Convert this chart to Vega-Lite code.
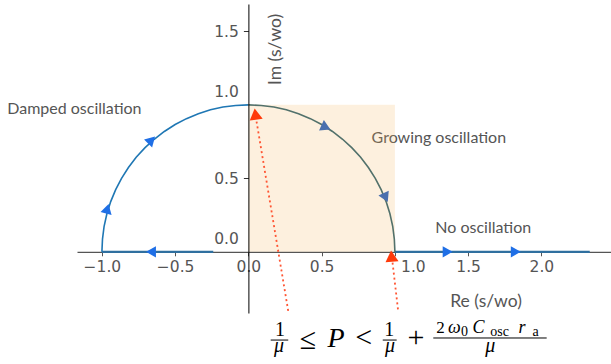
{
  "$schema": "https://vega.github.io/schema/vega-lite/v6.json",
  "width": 534,
  "height": 309,
  "autosize": "none",
  "padding": {"left": 77, "top": 4, "right": 0, "bottom": 51},
  "background": "white",
  "config": {"view": {"stroke": null}},
  "datasets": {
    "curves": [
      {"s": "axneg", "x": -1.0, "y": 0}, {"s": "axneg", "x": -0.24, "y": 0},
      {"s": "axpos", "x": 1.0, "y": 0}, {"s": "axpos", "x": 2.33, "y": 0},
      {"s": "damped", "x": -1.0, "y": 0.0}, {"s": "damped", "x": -0.996, "y": 0.087},
      {"s": "damped", "x": -0.985, "y": 0.174}, {"s": "damped", "x": -0.966, "y": 0.259},
      {"s": "damped", "x": -0.94, "y": 0.342}, {"s": "damped", "x": -0.906, "y": 0.423},
      {"s": "damped", "x": -0.866, "y": 0.5}, {"s": "damped", "x": -0.819, "y": 0.574},
      {"s": "damped", "x": -0.766, "y": 0.643}, {"s": "damped", "x": -0.707, "y": 0.707},
      {"s": "damped", "x": -0.643, "y": 0.766}, {"s": "damped", "x": -0.574, "y": 0.819},
      {"s": "damped", "x": -0.5, "y": 0.866}, {"s": "damped", "x": -0.423, "y": 0.906},
      {"s": "damped", "x": -0.342, "y": 0.94}, {"s": "damped", "x": -0.259, "y": 0.966},
      {"s": "damped", "x": -0.174, "y": 0.985}, {"s": "damped", "x": -0.087, "y": 0.996},
      {"s": "damped", "x": 0.0, "y": 1.0},
      {"s": "growing", "x": 0.0, "y": 1.0}, {"s": "growing", "x": 0.087, "y": 0.996},
      {"s": "growing", "x": 0.174, "y": 0.985}, {"s": "growing", "x": 0.259, "y": 0.966},
      {"s": "growing", "x": 0.342, "y": 0.94}, {"s": "growing", "x": 0.423, "y": 0.906},
      {"s": "growing", "x": 0.5, "y": 0.866}, {"s": "growing", "x": 0.574, "y": 0.819},
      {"s": "growing", "x": 0.643, "y": 0.766}, {"s": "growing", "x": 0.707, "y": 0.707},
      {"s": "growing", "x": 0.766, "y": 0.643}, {"s": "growing", "x": 0.819, "y": 0.574},
      {"s": "growing", "x": 0.866, "y": 0.5}, {"s": "growing", "x": 0.906, "y": 0.423},
      {"s": "growing", "x": 0.94, "y": 0.342}, {"s": "growing", "x": 0.966, "y": 0.259},
      {"s": "growing", "x": 0.985, "y": 0.174}, {"s": "growing", "x": 0.996, "y": 0.087},
      {"s": "growing", "x": 1.0, "y": 0.0}
    ],
    "arrows": [
      {"x": -0.665, "y": 0, "heading": 270, "grp": "bright"},
      {"x": -0.963, "y": 0.293, "heading": 15, "grp": "bright"},
      {"x": -0.661, "y": 0.761, "heading": 45, "grp": "bright"},
      {"x": 0.518, "y": 0.863, "heading": 355, "grp": "muted"},
      {"x": 0.921, "y": 0.38, "heading": 275, "grp": "muted"},
      {"x": 1.36, "y": 0, "heading": 90, "grp": "bright"},
      {"x": 1.825, "y": 0, "heading": 90, "grp": "bright"}
    ],
    "pointers": [
      {"id": 1, "x": 0.274, "y": -0.416}, {"id": 1, "x": 0.05, "y": 0.92},
      {"id": 2, "x": 1.023, "y": -0.409}, {"id": 2, "x": 0.98, "y": -0.04}
    ],
    "heads": [
      {"x": 0.048, "y": 0.937, "heading": 352},
      {"x": 0.977, "y": -0.029, "heading": 355}
    ],
    "notes": [
      {"x": -1.188, "y": 0.973, "label": "Damped oscillation"},
      {"x": 1.3, "y": 0.776, "label": "Growing oscillation"},
      {"x": 1.603, "y": 0.164, "label": "No oscillation"}
    ],
    "zone": [{"x": 0, "x2": 1.0, "y": 0, "y2": 1.0}],
    "math": [
      {"x": 0.407, "y": -0.661, "t": "≤", "kind": "op"},
      {"x": 0.787, "y": -0.646, "t": "<", "kind": "op"},
      {"x": 1.143, "y": -0.646, "t": "+", "kind": "op"},
      {"x": 0.598, "y": -0.646, "t": "P", "kind": "var"},
      {"x": 0.216, "y": -0.572, "t": "1", "kind": "frac"},
      {"x": 0.962, "y": -0.572, "t": "1", "kind": "frac"},
      {"x": 0.209, "y": -0.68, "t": "μ", "kind": "fracvar"},
      {"x": 0.967, "y": -0.68, "t": "μ", "kind": "fracvar"},
      {"x": 1.651, "y": -0.68, "t": "μ", "kind": "fracvar"},
      {"x": 1.311, "y": -0.554, "t": "2", "kind": "num"},
      {"x": 1.405, "y": -0.554, "t": "ω", "kind": "numvar"},
      {"x": 1.57, "y": -0.554, "t": "C", "kind": "numvar"},
      {"x": 1.868, "y": -0.554, "t": "r", "kind": "numvar"},
      {"x": 1.475, "y": -0.571, "t": "0", "kind": "sub"},
      {"x": 1.714, "y": -0.571, "t": "osc", "kind": "sub"},
      {"x": 1.96, "y": -0.571, "t": "a", "kind": "sub"}
    ],
    "bars": [
      {"x": 0.152, "x2": 0.272, "y": -0.6},
      {"x": 0.917, "x2": 1.012, "y": -0.6},
      {"x": 1.262, "x2": 2.036, "y": -0.586}
    ]
  },
  "encoding": {
    "x": {
      "field": "x", "type": "quantitative",
      "scale": {"domain": [-1.17, 2.475], "nice": false, "zero": false},
      "axis": {
        "values": [-1, -0.5, 0, 0.5, 1, 1.5, 2],
        "format": ".1f",
        "offset": -61.2,
        "grid": false,
        "domainColor": "#555555",
        "domainWidth": 1.3,
        "tickColor": "#555555",
        "tickSize": 4,
        "labelPadding": 4,
        "labelFont": "DejaVu Sans",
        "labelFontSize": 15.5,
        "labelColor": "#555555",
        "labelOffset": {"condition": {"test": "datum.value == 1", "value": 18}, "value": 0},
        "title": "Re (s/wo)",
        "titleFont": "Lato",
        "titleFontSize": 17.5,
        "titleFontWeight": "normal",
        "titleColor": "#555555",
        "titleX": 408.5,
        "titleY": 50,
        "titleAlign": "center",
        "titleBaseline": "middle"
      }
    },
    "y": {
      "field": "y", "type": "quantitative",
      "scale": {"domain": [-0.416, 1.686], "nice": false, "zero": false},
      "axis": {
        "values": [0, 0.5, 1, 1.5],
        "format": ".1f",
        "offset": -171.4,
        "grid": false,
        "zindex": 1,
        "domainColor": "#000000",
        "domainWidth": 1,
        "tickColor": "#333333",
        "tickSize": 5,
        "tickOpacity": {"condition": {"test": "datum.value == 0 || datum.value == 1", "value": 0}, "value": 1},
        "labelPadding": 5,
        "labelFont": "DejaVu Sans",
        "labelFontSize": 15.5,
        "labelColor": "#555555",
        "labelOffset": {"condition": {"test": "datum.value == 0 || datum.value == 1", "value": -13}, "value": 0},
        "title": "Im (s/wo)",
        "titleFont": "Lato",
        "titleFontSize": 17.5,
        "titleFontWeight": "normal",
        "titleColor": "#555555",
        "titleX": 27,
        "titleY": 45,
        "titleAngle": -90,
        "titleAlign": "center",
        "titleBaseline": "middle"
      }
    }
  },
  "layer": [
    {
      "data": {"name": "notes"},
      "mark": {"type": "text", "font": "Lato", "fontSize": 16, "color": "#555555", "align": "center", "baseline": "middle"},
      "encoding": {"text": {"field": "label"}}
    },
    {
      "data": {"name": "zone"},
      "mark": {"type": "rect", "color": "#f5b35a", "opacity": 0.2},
      "encoding": {"x2": {"field": "x2"}, "y2": {"field": "y2"}}
    },
    {
      "data": {"name": "curves"},
      "transform": [{"filter": "datum.s == 'axneg' || datum.s == 'axpos'"}],
      "mark": {"type": "line", "color": "#2f6f9f", "strokeWidth": 2.2},
      "encoding": {"detail": {"field": "s"}}
    },
    {
      "data": {"name": "curves"},
      "transform": [{"filter": "datum.s == 'damped'"}],
      "mark": {"type": "line", "color": "#1f77b4", "strokeWidth": 1.6},
      "encoding": {}
    },
    {
      "data": {"name": "curves"},
      "transform": [{"filter": "datum.s == 'growing'"}],
      "mark": {"type": "line", "color": "#52716b", "strokeWidth": 1.6},
      "encoding": {}
    },
    {
      "data": {"name": "pointers"},
      "mark": {"type": "line", "color": "#ff5533", "strokeWidth": 1.8, "strokeDash": [2, 3]},
      "encoding": {"detail": {"field": "id"}}
    },
    {
      "data": {"name": "arrows"},
      "mark": {"type": "point", "shape": "triangle-up", "filled": true, "size": 130, "opacity": 1},
      "encoding": {
        "angle": {"field": "heading", "type": "quantitative", "scale": {"domain": [0, 360], "range": [0, 360]}},
        "color": {"field": "grp", "type": "nominal", "scale": {"domain": ["bright", "muted"], "range": ["#1f6fe6", "#4a6fae"]}, "legend": null}
      }
    },
    {
      "data": {"name": "heads"},
      "mark": {"type": "point", "shape": "triangle-up", "filled": true, "size": 170, "opacity": 1, "color": "#ff3a0a"},
      "encoding": {
        "angle": {"field": "heading", "type": "quantitative", "scale": {"domain": [0, 360], "range": [0, 360]}}
      }
    },
    {
      "data": {"name": "math"},
      "transform": [{"filter": "datum.kind == 'op'"}],
      "mark": {"type": "text", "font": "Liberation Serif", "fontSize": 30, "color": "#000000", "align": "center", "baseline": "alphabetic"},
      "encoding": {"text": {"field": "t"}}
    },
    {
      "data": {"name": "math"},
      "transform": [{"filter": "datum.kind == 'var'"}],
      "mark": {"type": "text", "font": "Liberation Serif", "fontStyle": "italic", "fontSize": 28, "color": "#000000", "align": "center", "baseline": "alphabetic"},
      "encoding": {"text": {"field": "t"}}
    },
    {
      "data": {"name": "math"},
      "transform": [{"filter": "datum.kind == 'frac'"}],
      "mark": {"type": "text", "font": "Liberation Serif", "fontSize": 20, "color": "#000000", "align": "center", "baseline": "alphabetic"},
      "encoding": {"text": {"field": "t"}}
    },
    {
      "data": {"name": "math"},
      "transform": [{"filter": "datum.kind == 'fracvar'"}],
      "mark": {"type": "text", "font": "Liberation Serif", "fontStyle": "italic", "fontSize": 20, "color": "#000000", "align": "center", "baseline": "alphabetic"},
      "encoding": {"text": {"field": "t"}}
    },
    {
      "data": {"name": "math"},
      "transform": [{"filter": "datum.kind == 'num'"}],
      "mark": {"type": "text", "font": "Liberation Serif", "fontSize": 17, "color": "#000000", "align": "center", "baseline": "alphabetic"},
      "encoding": {"text": {"field": "t"}}
    },
    {
      "data": {"name": "math"},
      "transform": [{"filter": "datum.kind == 'numvar'"}],
      "mark": {"type": "text", "font": "Liberation Serif", "fontStyle": "italic", "fontSize": 18, "color": "#000000", "align": "center", "baseline": "alphabetic"},
      "encoding": {"text": {"field": "t"}}
    },
    {
      "data": {"name": "math"},
      "transform": [{"filter": "datum.kind == 'sub'"}],
      "mark": {"type": "text", "font": "Liberation Serif", "fontSize": 14, "color": "#000000", "align": "center", "baseline": "alphabetic"},
      "encoding": {"text": {"field": "t"}}
    },
    {
      "data": {"name": "bars"},
      "mark": {"type": "rule", "color": "#000000", "strokeWidth": 1},
      "encoding": {"x2": {"field": "x2"}}
    }
  ]
}
